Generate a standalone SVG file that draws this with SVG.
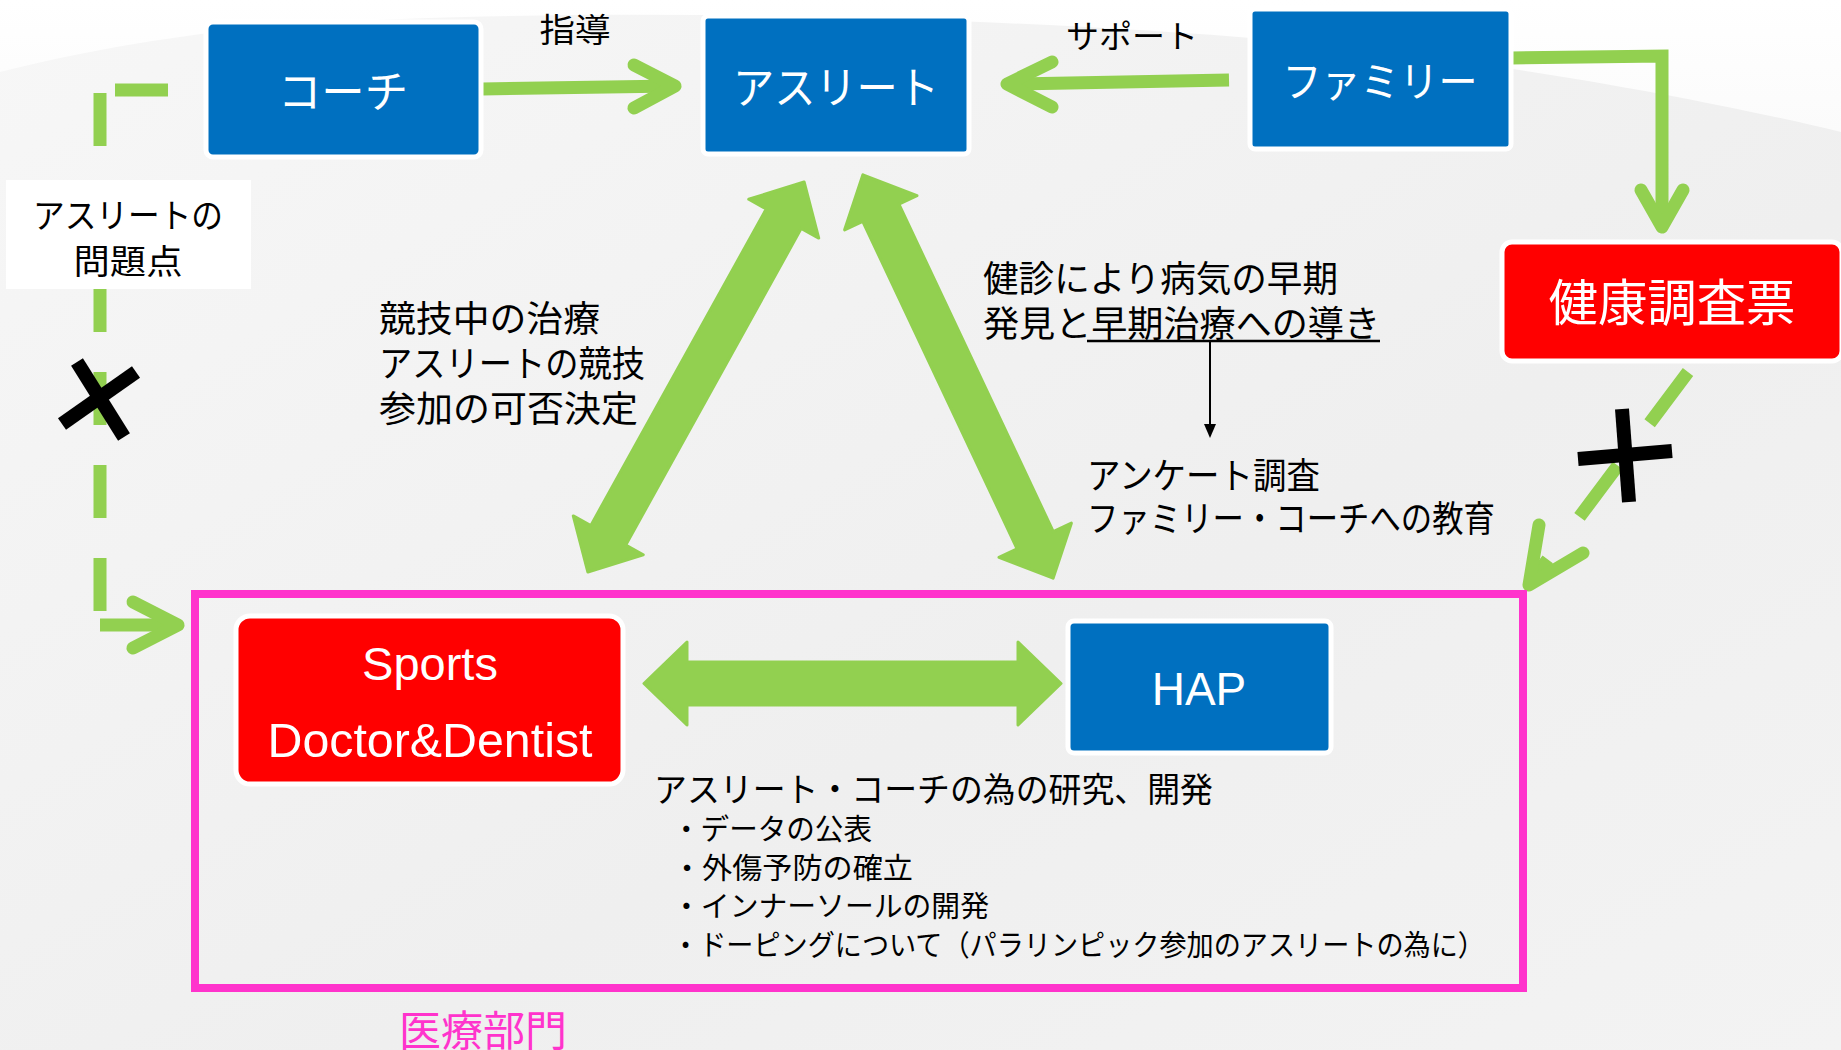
<svg xmlns="http://www.w3.org/2000/svg" width="1841" height="1050" viewBox="0 0 1841 1050">
<defs>
<linearGradient id="bg" x1="0" y1="0" x2="1" y2="1">
<stop offset="0" stop-color="#f7f7f7"/>
<stop offset="0.6" stop-color="#efefef"/>
<stop offset="1" stop-color="#f3f3f3"/>
</linearGradient>
<linearGradient id="sw" x1="0" y1="0" x2="0" y2="1">
<stop offset="0" stop-color="#ffffff"/>
<stop offset="1" stop-color="#fbfbfb"/>
</linearGradient>
<style>
.jp{font-family:"Noto Sans CJK JP","Noto Sans",sans-serif;fill:#000}
.lat{font-family:"Liberation Sans",Arial,sans-serif;fill:#fff}
.wt{fill:#fff}
.blue{fill:#0070c0;stroke:#fff;stroke-width:5}
.red{fill:#ff0000;stroke:#fff;stroke-width:5}
.gl{fill:none;stroke:#92d050;stroke-width:13}
.chev{fill:none;stroke:#92d050;stroke-width:13;stroke-linecap:round;stroke-linejoin:round}
.blk{fill:none;stroke:#000;stroke-width:14}
.big{fill:#92d050;stroke:#92d050;stroke-width:3;stroke-linejoin:round}
</style>
</defs>
<rect x="0" y="0" width="1841" height="1050" fill="url(#bg)"/>
<path d="M0,0 H1841 V132 C1700,98 1500,62 1300,42 C1000,16 600,6 300,24 C180,33 80,52 0,72 Z" fill="url(#sw)"/>

<g id="connectors">
<!-- coach -> athlete -->
<line class="gl" x1="482" y1="89" x2="674" y2="86"/>
<polyline class="chev" points="634,65 675,86 634,108"/>
<!-- family -> athlete -->
<line class="gl" x1="1229" y1="80" x2="1010" y2="84"/>
<polyline class="chev" points="1052,62 1007,84 1052,107"/>
<!-- family -> health form -->
<polyline class="gl" points="1511,58 1662,56 1662,225" stroke-width="12"/>
<polyline class="chev" points="1641,190 1662,227 1683,190" stroke-width="12"/>
<!-- health form -> medical dept (dashed, crossed) -->
<line class="gl" x1="1688" y1="372" x2="1530" y2="583" stroke-width="12" stroke-dasharray="64 53"/>
<polyline class="chev" points="1539,525 1529,585 1583,553" stroke-width="12"/>
<line class="blk" x1="1622" y1="409" x2="1629" y2="502"/>
<line class="blk" x1="1578" y1="459" x2="1672" y2="451"/>
<!-- coach -> medical dept (dashed, crossed) -->
<line class="gl" x1="168" y1="90" x2="115" y2="90" stroke-width="14"/>
<line class="gl" x1="100" y1="93" x2="100" y2="611" stroke-width="14" stroke-dasharray="53 40"/>
<line class="gl" x1="100" y1="625" x2="176" y2="625" stroke-width="13"/>
<polyline class="chev" points="133,602 178,625 133,648"/>
<line class="blk" x1="77" y1="362" x2="124" y2="437"/>
<line class="blk" x1="62" y1="424" x2="136" y2="372"/>
<!-- big double arrows -->
<polygon class="big" transform="translate(696,377) rotate(119)" points="-223,0 -181,-40 -181,-20 181,-20 181,-40 223,0 181,40 181,20 -181,20 -181,40"/>
<polygon class="big" transform="translate(958,376.5) rotate(64.76)" points="-223,0 -181,-40 -181,-20 181,-20 181,-40 223,0 181,40 181,20 -181,20 -181,40"/>
<polygon class="big" points="644,683.5 687,642 687,662 1018,662 1018,642 1061,683.5 1018,725 1018,705 687,705 687,725"/>
<!-- thin arrow -->
<line x1="1210" y1="341" x2="1210" y2="426" stroke="#000" stroke-width="2"/>
<polygon points="1204,424 1216,424 1210,438" fill="#000"/>
</g>

<g id="medical-dept">
<rect x="195" y="594" width="1328" height="394" fill="none" stroke="#ff33cc" stroke-width="8"/>
<text class="jp" x="483" y="1046" font-size="42" text-anchor="middle" style="fill:#ff33cc">医療部門</text>
</g>

<g id="coach">
<rect class="blue" x="206" y="22" width="275" height="135" rx="7"/>
<text class="jp wt" x="343" y="108" font-size="44" text-anchor="middle" textLength="130" lengthAdjust="spacingAndGlyphs">コーチ</text>
</g>
<g id="athlete">
<rect class="blue" x="703" y="16" width="266" height="138" rx="5"/>
<text class="jp wt" x="836" y="104" font-size="44" text-anchor="middle" textLength="206" lengthAdjust="spacingAndGlyphs">アスリート</text>
</g>
<g id="family">
<rect class="blue" x="1250" y="9" width="261" height="140" rx="5"/>
<text class="jp wt" x="1380" y="97" font-size="42" text-anchor="middle" textLength="195" lengthAdjust="spacingAndGlyphs">ファミリー</text>
</g>
<g id="health-form">
<rect class="red" x="1502" y="242" width="340" height="119" rx="10"/>
<text class="jp wt" x="1672" y="321" font-size="50" text-anchor="middle" textLength="247" lengthAdjust="spacingAndGlyphs">健康調査票</text>
</g>
<g id="sports-doctor">
<rect class="red" x="236" y="616" width="387" height="168" rx="14"/>
<text class="lat" x="430" y="680" font-size="47" text-anchor="middle">Sports</text>
<text class="lat" x="430" y="757" font-size="48" text-anchor="middle" textLength="325" lengthAdjust="spacingAndGlyphs">Doctor&amp;Dentist</text>
</g>
<g id="hap">
<rect class="blue" x="1068" y="621" width="263" height="132" rx="6"/>
<text class="lat" x="1199" y="705" font-size="46" text-anchor="middle">HAP</text>
</g>
<g id="athlete-problem">
<rect x="6" y="180" width="245" height="109" fill="#fff"/>
<text class="jp" x="128" y="228" font-size="34" text-anchor="middle" textLength="190" lengthAdjust="spacingAndGlyphs">アスリートの</text>
<text class="jp" x="128" y="274" font-size="34" text-anchor="middle" textLength="109" lengthAdjust="spacingAndGlyphs">問題点</text>
</g>

<g id="labels">
<text class="jp" x="575" y="42" font-size="33" text-anchor="middle" textLength="71" lengthAdjust="spacingAndGlyphs">指導</text>
<text class="jp" x="1066" y="48" font-size="32" textLength="132" lengthAdjust="spacingAndGlyphs">サポート</text>
<text class="jp" x="379" y="332" font-size="36" textLength="221" lengthAdjust="spacingAndGlyphs">競技中の治療</text>
<text class="jp" x="379" y="377" font-size="36" textLength="266" lengthAdjust="spacingAndGlyphs">アスリートの競技</text>
<text class="jp" x="379" y="422" font-size="36" textLength="259" lengthAdjust="spacingAndGlyphs">参加の可否決定</text>
<text class="jp" x="983" y="292" font-size="36" textLength="355" lengthAdjust="spacingAndGlyphs">健診により病気の早期</text>
<text class="jp" x="983" y="337" font-size="36" textLength="397" lengthAdjust="spacingAndGlyphs">発見と早期治療への導き</text>
<line x1="1087" y1="341" x2="1380" y2="341" stroke="#000" stroke-width="2.5"/>
<text class="jp" x="1087" y="489" font-size="36" textLength="233" lengthAdjust="spacingAndGlyphs">アンケート調査</text>
<text class="jp" x="1087" y="532" font-size="36" textLength="408" lengthAdjust="spacingAndGlyphs">ファミリー・コーチへの教育</text>
<text class="jp" x="654" y="802" font-size="34" textLength="559" lengthAdjust="spacingAndGlyphs">アスリート・コーチの為の研究、開発</text>
<text class="jp" x="672" y="840" font-size="29" textLength="200" lengthAdjust="spacingAndGlyphs">・データの公表</text>
<text class="jp" x="672" y="879" font-size="29" textLength="241" lengthAdjust="spacingAndGlyphs">・外傷予防の確立</text>
<text class="jp" x="672" y="917" font-size="29" textLength="317" lengthAdjust="spacingAndGlyphs">・インナーソールの開発</text>
<text class="jp" x="672" y="956" font-size="29" textLength="813" lengthAdjust="spacingAndGlyphs">・ドーピングについて（パラリンピック参加のアスリートの為に）</text>
</g>
</svg>
